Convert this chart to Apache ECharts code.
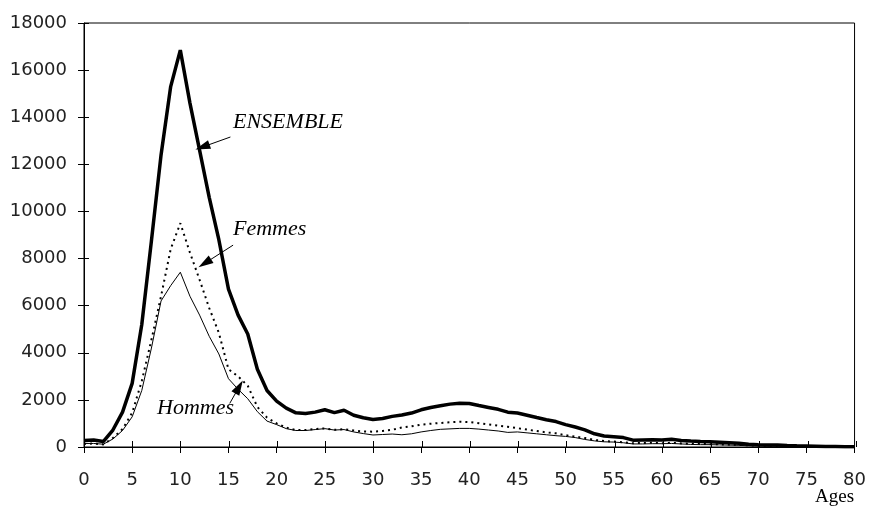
<!DOCTYPE html>
<html><head><meta charset="utf-8">
<script src="https://cdn.jsdelivr.net/npm/echarts@6/dist/echarts.min.js"></script>
<style>html,body{margin:0;padding:0;background:#fff}#c{width:869px;height:506px}</style>
</head><body><div id="c"></div>
<script>
const ages = [0,1,2,3,4,5,6,7,8,9,10,11,12,13,14,15,16,17,18,19,20,21,22,23,24,25,26,27,28,29,30,31,32,33,34,35,36,37,38,39,40,41,42,43,44,45,46,47,48,49,50,51,52,53,54,55,56,57,58,59,60,61,62,63,64,65,66,67,68,69,70,71,72,73,74,75,76,77,78,79,80];
const ensemble = [280,300,230,720,1480,2700,5200,8750,12400,15300,16850,14600,12600,10600,8800,6700,5600,4800,3300,2400,1950,1650,1450,1420,1480,1580,1460,1560,1350,1240,1170,1210,1300,1360,1440,1580,1680,1750,1820,1860,1850,1760,1680,1600,1480,1440,1350,1250,1160,1080,950,850,730,560,470,440,400,290,300,310,300,330,280,250,230,220,200,180,160,120,100,85,80,60,50,45,35,25,20,13,10];
const femmes = [130,150,110,380,760,1450,2800,4550,6400,8400,9500,8250,7100,5900,4850,3300,3000,2600,1700,1250,1000,820,720,720,760,790,730,760,700,660,650,680,730,830,880,950,990,1020,1050,1070,1060,1010,960,910,860,800,740,680,620,580,500,440,380,300,250,230,200,160,170,180,160,180,150,140,130,120,110,100,90,70,55,50,45,35,30,25,20,15,10,8,5];
const hommes = [150,150,120,340,700,1280,2400,4200,6200,6850,7420,6400,5600,4700,3950,2900,2450,2050,1500,1100,950,780,700,700,740,780,720,740,640,570,510,530,550,520,560,640,700,750,770,790,790,760,720,680,620,640,600,560,520,480,450,400,320,260,220,210,180,130,130,140,140,150,130,110,100,100,90,80,70,50,45,35,35,25,20,20,15,10,10,5,5];
const seriesNames = ['ENSEMBLE','Femmes','Hommes'];
const axisTitle = 'Ages';

const chart = echarts.init(document.getElementById('c'), null, {renderer:'canvas'});
const pairs = arr => ages.map((a,i)=>[a, arr[i]]);
const arrow = (from, to) => ({
  silent: true, animation: false,
  symbol: ['none','triangle'], symbolSize: [9, 15],
  label: {show:false},
  itemStyle: {color:'#000'},
  lineStyle: {color:'#000', width:1, type:'solid'},
  emphasis: {disabled:true},
  data: [[{coord:from},{coord:to}]]
});
const txtFont = 'italic 22px "Liberation Serif"';
const gridRect = {left:84, right:13, top:23, bottom:59};
chart.setOption({
  animation: false,
  grid: [
    Object.assign({show:true, borderColor:'#000', borderWidth:1}, gridRect),
    Object.assign({show:false}, gridRect)
  ],
  xAxis: [{
    gridIndex:0, type:'value', min:0, max:80, interval:5, position:'bottom',
    axisLine:{show:true, lineStyle:{color:'#000', width:1}},
    axisTick:{show:true, length:6, lineStyle:{color:'#000'}},
    axisLabel:{fontSize:18, fontFamily:'DejaVu Sans', color:'#222', margin:24},
    splitLine:{show:false}
  },{
    gridIndex:1, type:'value', min:0, max:80, interval:5, position:'bottom',
    axisLine:{show:false},
    axisTick:{show:true, inside:true, length:6, lineStyle:{color:'#000'}},
    axisLabel:{show:false}, splitLine:{show:false}
  }],
  yAxis: [{
    gridIndex:0, type:'value', min:0, max:18000, interval:2000, position:'left',
    axisLine:{show:true, lineStyle:{color:'#000', width:1}},
    axisTick:{show:true, length:6, lineStyle:{color:'#000'}},
    axisLabel:{fontSize:18, fontFamily:'DejaVu Sans', color:'#222', margin:17, formatter: v => String(v)},
    splitLine:{show:false}
  },{
    gridIndex:1, type:'value', min:0, max:18000, interval:2000, position:'left',
    axisLine:{show:false},
    axisTick:{show:true, inside:true, length:5, lineStyle:{color:'#000'}},
    axisLabel:{show:false}, splitLine:{show:false}
  }],
  series: [
    {name:seriesNames[1], type:'line', data:pairs(femmes), showSymbol:false, smooth:false,
     lineStyle:{color:'#000', width:2, type:[2,4]}, z:3,
     markLine: arrow([15.48, 8570],[12.54, 7800])},
    {name:seriesNames[2], type:'line', data:pairs(hommes), showSymbol:false, smooth:false,
     lineStyle:{color:'#000', width:1}, z:3,
     markLine: arrow([15.13, 1850],[16.1, 2550])},
    {name:seriesNames[0], type:'line', data:pairs(ensemble), showSymbol:false, smooth:false,
     lineStyle:{color:'#000', width:3.5}, z:4,
     markLine: arrow([15.2, 13160],[12.3, 12735])}
  ],
  graphic: [
    {type:'text', left:233, top:111, style:{text:seriesNames[0], font:txtFont, fill:'#000'}},
    {type:'text', left:233, top:218, style:{text:seriesNames[1], font:txtFont, fill:'#000'}},
    {type:'text', left:157, top:397, style:{text:seriesNames[2], font:txtFont, fill:'#000'}},
    {type:'text', left:815, top:488, style:{text:axisTitle, font:'19px "Liberation Serif"', fill:'#000'}}
  ]
});
</script></body></html>
